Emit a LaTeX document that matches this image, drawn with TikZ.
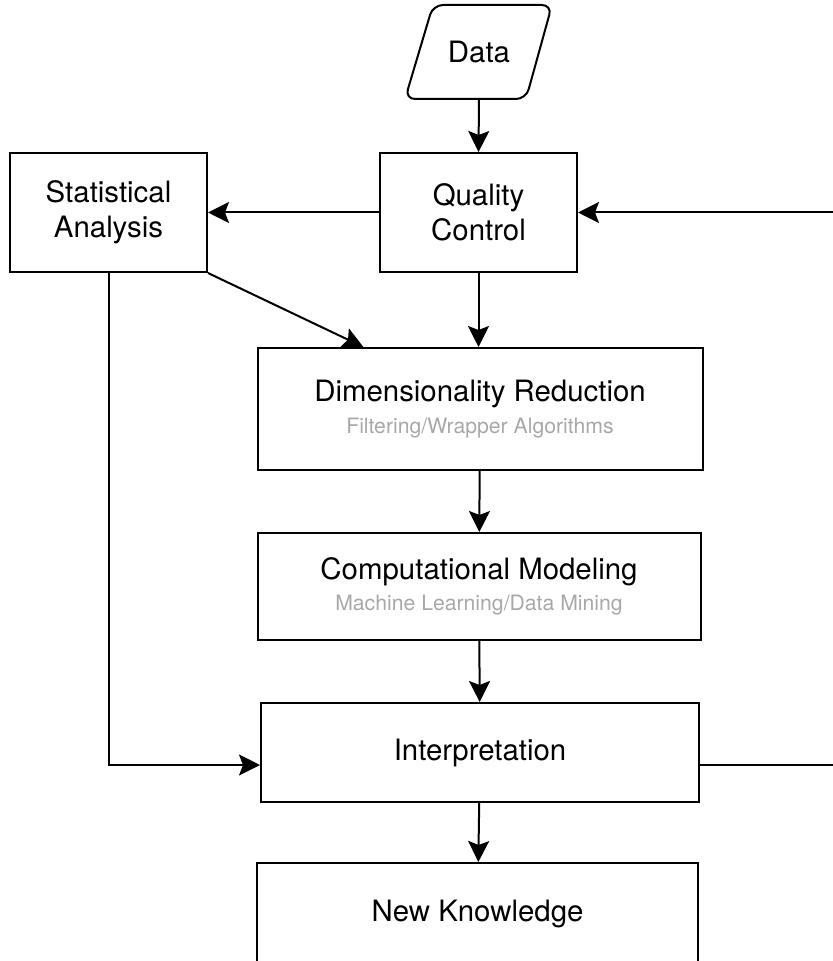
\documentclass[tikz,border=0pt]{standalone}
\usepackage{fontspec}
\setmainfont{TeX Gyre Heros}
\usetikzlibrary{arrows.meta}
\definecolor{subgray}{HTML}{A8A8A8}
\newcommand{\sublabel}[1]{{\fontsize{10.6}{13}\selectfont\color{subgray}#1}}
\tikzset{
  stepbox/.style={draw, line width=1pt, align=center, inner sep=2pt,
    font=\fontsize{14.7}{17.5}\selectfont},
  flow/.style={line width=1pt, -{Stealth[length=10.5pt, width=10.5pt, inset=2pt]}},
  link/.style={line width=1pt}
}
\begin{document}
\begin{tikzpicture}[x=0.5pt, y=-0.5pt]
  \useasboundingbox (0,0) rectangle (832,961);
  % input
  \node (data) [minimum width=60pt, minimum height=46.5pt,
    font=\fontsize{14.7}{17.5}\selectfont] at (479,52) {Data};
  \draw [link, rounded corners=5pt] (492,5) -- (552,5) -- (526,99)
    -- (405,99) -- (433,5) -- cycle;
  % boxes
  \node (qc) [stepbox, minimum width=98.5pt, minimum height=59.5pt]
    at (478.5,212.5) {Quality\\Control};
  \node (stat) [stepbox, minimum width=98.5pt, minimum height=59.5pt]
    at (108.5,212.5) {Statistical\\Analysis};
  \node (dr) [stepbox, minimum width=222.5pt, minimum height=61pt]
    at (480,409) {Dimensionality Reduction\\[-1.5pt]\sublabel{Filtering/Wrapper Algorithms}};
  \node (cm) [stepbox, minimum width=221.5pt, minimum height=53.5pt]
    at (479,586.5) {Computational Modeling\\[-2pt]\sublabel{Machine Learning/Data Mining}};
  \node (interp) [stepbox, minimum width=219pt, minimum height=49.5pt]
    at (480,752.5) {Interpretation};
  \node (nk) [stepbox, minimum width=220.5pt, minimum height=51pt]
    at (477.5,914) {New Knowledge};
  % connectors
  \coordinate (back) at (880,0);
  \coordinate (loopin) at ([yshift=-6.25pt]interp.east);
  \coordinate (statin) at ([yshift=-6.25pt]interp.west);
  \draw [flow] (data.south) -- (qc.north);
  \draw [flow] (qc.west) -- (stat.east);
  \draw [flow] (qc.south) -- (qc.south |- dr.north);
  \draw [flow] (stat.south east) -- (dr.152);
  \draw [flow] (dr) -- (cm);
  \draw [flow] (cm) -- (interp);
  \draw [flow] (interp) -- (nk);
  \draw [flow] (stat.south) |- (statin);
  \draw [flow] (loopin) -- (loopin -| back) |- (qc.east);
\end{tikzpicture}
\end{document}
